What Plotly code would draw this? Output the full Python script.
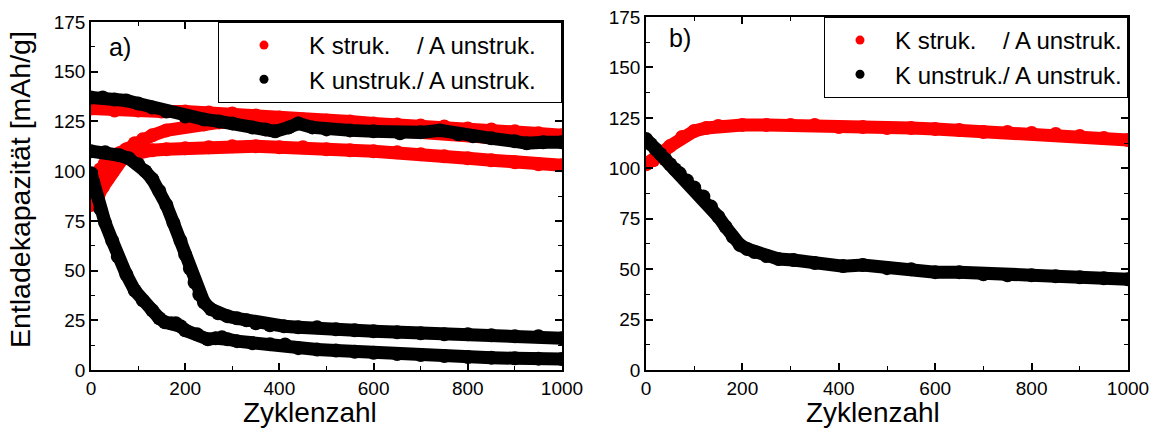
import plotly.graph_objects as go

# ---------------- data: discharge capacity vs. cycle number ----------------
# Panel a) - cathode structured / anode unstructured (red)
a_red1_x = [0, 50, 100, 150, 200, 250, 300, 350, 400, 450, 500, 550, 600, 650, 700, 750, 800, 850, 900, 950, 1000]
a_red1_y = [131.5, 130.5, 130.5, 130, 130, 129.5, 129, 128, 127, 126, 125.5, 125, 124, 123.5, 123, 122.5, 121.5, 121, 120, 119, 118]

a_red2_x = [0, 10, 20, 30, 45, 60, 75, 93, 110, 130, 160, 200, 240, 272, 320, 370, 420, 500, 600, 700, 800, 900, 1000]
a_red2_y = [92, 97, 101, 104, 107, 109, 111, 114, 116, 118, 120.5, 122.5, 123.5, 124.5, 125, 125, 124.5, 123, 121, 120, 118, 116, 115]

a_red3_x = [0, 8, 16, 25, 35, 45, 55, 66, 80, 100, 130, 160, 200, 250, 300, 350, 400, 450, 500, 550, 600, 650, 700, 750, 800, 850, 900, 950, 1000]
a_red3_y = [83, 85, 88, 92, 96, 99.5, 103, 106, 108, 109.5, 110.5, 111, 111.5, 112, 112.5, 112.5, 112, 112, 111, 110.5, 110, 109.5, 108.5, 107.5, 106.5, 105.5, 104.5, 103.5, 103]

# Panel a) - cathode unstructured / anode unstructured (black)
a_blk1_x = [0, 25, 50, 75, 100, 130, 160, 200, 240, 272, 300, 342, 370, 391, 420, 440, 470, 500, 550, 600, 656, 700, 741, 780, 811, 850, 900, 925, 960, 1000]
a_blk1_y = [137, 137, 136, 135.5, 134, 132, 130, 127.5, 126, 125, 124, 122, 121, 120, 122, 124, 122, 121, 120.5, 120, 119, 119.5, 120.5, 118.5, 117.5, 116.5, 115, 114, 114.5, 114.5]

a_blk2_x = [0, 30, 60, 80, 100, 115, 130, 145, 160, 175, 190, 200, 210, 220, 230, 240, 255, 270, 290, 310, 330, 350, 380, 410, 440, 480, 520, 560, 600, 650, 700, 750, 800, 850, 900, 950, 1000]
a_blk2_y = [110, 109.5, 108, 106.5, 103.5, 100, 96, 90, 83, 74, 65, 58, 51, 44, 38, 34, 30.5, 28.5, 27, 26, 25, 23.5, 22.5, 22, 21.5, 21.5, 20.5, 20, 19.5, 19, 18.5, 18, 18, 17.5, 17, 17, 16]

a_blk3_x = [0, 5, 10, 20, 30, 45, 57, 75, 93, 110, 130, 145, 157, 170, 180, 190, 200, 225, 248, 265, 278, 290, 310, 342, 380, 412, 440, 480, 520, 560, 600, 650, 700, 750, 800, 850, 900, 950, 1000]
a_blk3_y = [99, 94, 89, 81, 74, 65, 57, 48, 40, 35, 30, 26, 24, 23.5, 23.5, 22, 20, 18, 15.5, 16, 16.5, 15.5, 14.5, 13.5, 13, 12.8, 11, 10.3, 9.8, 9.2, 8.7, 8, 7.5, 7, 6.5, 6.2, 5.9, 5.7, 5.5]

# Panel b)
b_red_x = [0, 15, 30, 50, 75, 100, 125, 150, 200, 250, 300, 350, 400, 450, 500, 550, 600, 650, 700, 750, 800, 850, 900, 950, 1000]
b_red_y = [102, 104, 107, 111, 115.5, 118.5, 120, 121, 121.5, 121.5, 121.5, 121.5, 120.5, 120.5, 120, 120, 119.5, 119, 118, 118, 117.5, 117, 116, 115, 114]

b_blk_x = [0, 10, 20, 30, 40, 50, 60, 70, 85, 100, 119, 135, 150, 165, 180, 195, 210, 225, 250, 275, 306, 350, 409, 450, 500, 550, 600, 650, 700, 750, 800, 850, 900, 950, 1000]
b_blk_y = [114.5, 112, 109.5, 107, 104.5, 102, 99.5, 97.5, 94, 90.5, 86, 81, 76, 71, 66, 62, 60, 58.5, 56.5, 55, 54.5, 53, 51.5, 52, 50.5, 50, 48.5, 48.5, 47.5, 47, 47, 46.5, 46, 45.5, 45]

legend_labels = ["K struk.\u00a0\u00a0\u00a0\u00a0/ A unstruk.", "K unstruk./ A unstruk."]
panel_labels = ["a)", "b)"]
x_title = "Zyklenzahl"
y_title = "Entladekapazität [mAh/g]"

RED = "#ff0000"
BLACK = "#000000"
FONT = "Liberation Sans, Arial, sans-serif"

W, H = 1154, 430
fig = go.Figure()


def band(x, y, color, xa, ya):
    # thick marker band, as in the measured cycling data
    fig.add_trace(go.Scatter(
        x=x, y=y, xaxis=xa, yaxis=ya, mode="lines+markers",
        line=dict(color=color, width=13),
        marker=dict(color=color, size=14),
        showlegend=False, hoverinfo="skip"))


for xs, ys in [(a_red1_x, a_red1_y), (a_red2_x, a_red2_y), (a_red3_x, a_red3_y)]:
    band(xs, ys, RED, "x", "y")
for xs, ys in [(a_blk1_x, a_blk1_y), (a_blk2_x, a_blk2_y), (a_blk3_x, a_blk3_y)]:
    band(xs, ys, BLACK, "x", "y")
band(b_red_x, b_red_y, RED, "x2", "y2")
band(b_blk_x, b_blk_y, BLACK, "x2", "y2")

# legend entries (dot symbols) for both panels; panel a) box is wider
pad_a = "\u00a0\u00a0\u00a0"
for leg, xa, ya, pad in [("legend", "x", "y", pad_a), ("legend2", "x2", "y2", "")]:
    for lbl, col in zip(legend_labels, [RED, BLACK]):
        fig.add_trace(go.Scatter(
            x=[None], y=[None], xaxis=xa, yaxis=ya, mode="markers",
            marker=dict(color=col, size=9), name=lbl + pad, legend=leg))

# plot area positions (pixels -> paper)
xa_dom = [91 / W, 562 / W]
xb_dom = [646 / W, 1128 / W]
ya_dom = [1 - 370 / H, 1 - 22 / H]
yb_dom = [1 - 370 / H, 1 - 17 / H]

axis_common = dict(
    showline=True, linecolor="black", linewidth=1.5, mirror="ticks",
    ticks="inside", ticklen=7, tickwidth=1.5, tickcolor="black",
    showgrid=False, zeroline=False, automargin=False,
    tickfont=dict(family=FONT, size=19, color="black"),
)
minor_x = dict(dtick=100, ticks="inside", ticklen=4, tickwidth=1.2, tickcolor="black", showgrid=False)
minor_y = dict(dtick=12.5, ticks="inside", ticklen=4, tickwidth=1.2, tickcolor="black", showgrid=False)

legend_common = dict(xanchor="right", yanchor="top", bgcolor="white", bordercolor="black",
                     borderwidth=1, font=dict(family=FONT, size=24, color="black"),
                     tracegroupgap=0)

fig.update_layout(
    width=W, height=H,
    margin=dict(l=0, r=0, t=0, b=0),
    paper_bgcolor="white", plot_bgcolor="white",
    font=dict(family=FONT, color="black"),
    xaxis=dict(domain=xa_dom, anchor="y", range=[0, 1000], dtick=200, minor=minor_x, **axis_common),
    yaxis=dict(domain=ya_dom, anchor="x", range=[0, 175], dtick=25, minor=minor_y, **axis_common),
    xaxis2=dict(domain=xb_dom, anchor="y2", range=[0, 1000], dtick=200, minor=minor_x, **axis_common),
    yaxis2=dict(domain=yb_dom, anchor="x2", range=[0, 175], dtick=25, minor=minor_y, **axis_common),
    legend=dict(x=xa_dom[1], y=ya_dom[1], itemwidth=80, **legend_common),
    legend2=dict(x=xb_dom[1], y=yb_dom[1], itemwidth=60, **legend_common),
    annotations=[
        # panel labels
        dict(text=panel_labels[0], xref="x domain", yref="y domain", x=0.034, y=0.975,
             xanchor="left", yanchor="top", showarrow=False, font=dict(family=FONT, size=25)),
        dict(text=panel_labels[1], xref="x2 domain", yref="y2 domain", x=0.044, y=0.985,
             xanchor="left", yanchor="top", showarrow=False, font=dict(family=FONT, size=25)),
        # axis titles
        dict(text=x_title, xref="paper", yref="paper", x=310 / W, y=1 - 412 / H,
             xanchor="center", yanchor="middle", showarrow=False, font=dict(family=FONT, size=28)),
        dict(text=x_title, xref="paper", yref="paper", x=873 / W, y=1 - 412 / H,
             xanchor="center", yanchor="middle", showarrow=False, font=dict(family=FONT, size=28)),
        dict(text=y_title, xref="paper", yref="paper", x=20 / W, y=1 - 190 / H,
             xanchor="center", yanchor="middle", textangle=-90, showarrow=False,
             font=dict(family=FONT, size=28.5)),
    ],
)

fig.write_html("out.html")
